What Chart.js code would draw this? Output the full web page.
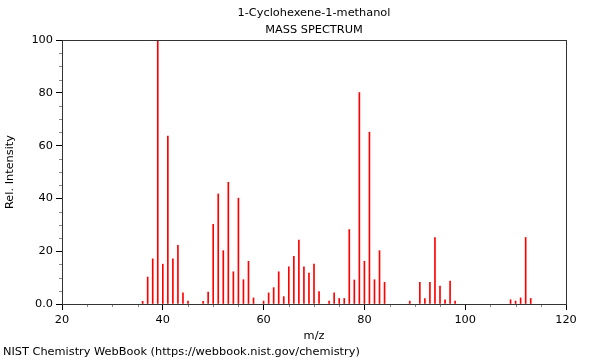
<!DOCTYPE html>
<html>
<head>
<meta charset="utf-8">
<script src="https://cdn.jsdelivr.net/npm/chart.js@4/dist/chart.umd.min.js"></script>
<style>
  html, body { margin: 0; padding: 0; background: #fff; }
  #wrap { width: 600px; height: 360px; }
</style>
</head>
<body>
<div id="wrap"><canvas id="c" width="600" height="360"></canvas></div>
<script>
const titleLines = ["1-Cyclohexene-1-methanol", "MASS SPECTRUM"];
const footerText = "NIST Chemistry WebBook (https://webbook.nist.gov/chemistry)";
const xLabel = "m/z";
const yLabel = "Rel. Intensity";

const mz = [36,37,38,39,40,41,42,43,44,45,
            48,49,50,51,52,53,54,55,56,57,58,
            60,61,62,63,64,65,66,67,68,69,70,71,
            73,74,75,76,77,78,79,80,81,82,83,84,
            89,91,92,93,94,95,96,97,98,
            109,110,111,112,113];
const intensity = [1.0,10.2,17.1,100,15.1,63.6,17.1,22.2,4.2,1.1,
                   1.0,4.5,30.2,41.7,20.2,46.1,12.2,40.1,9.2,16.2,2.3,
                   1.1,4.2,6.2,12.2,2.8,14.1,18.1,24.2,14.1,11.7,15.1,4.7,
                   1.1,4.2,2.1,2.1,28.2,9.1,80.1,16.2,65.1,9.2,20.2,8.2,
                   1.1,8.2,2.1,8.2,25.2,6.8,1.6,8.7,1.1,
                   1.6,1.1,2.3,25.2,2.1];
const xMajorTicks = [20, 40, 60, 80, 100, 120];
const yMajorTicks = [0, 20, 40, 60, 80, 100];

const FONT = "'DejaVu Sans', sans-serif";
const FS = 11.33;
const points = mz.map((m, i) => ({ x: m, y: intensity[i] }));

const frameAndMinor = {
  id: 'frameAndMinor',
  afterDraw(chart) {
    const ctx = chart.ctx;
    const a = chart.chartArea;
    ctx.save();
    ctx.strokeStyle = '#888';
    ctx.lineWidth = 1;
    const xs = chart.scales.x, ys = chart.scales.y;
    xs.ticks.forEach(t => {
      if (xMajorTicks.includes(t.value)) return;
      const px = Math.round(xs.getPixelForValue(t.value)) + 0.5;
      ctx.beginPath(); ctx.moveTo(px, a.bottom); ctx.lineTo(px, a.bottom + 3); ctx.stroke();
    });
    ys.ticks.forEach(t => {
      if (yMajorTicks.includes(t.value)) return;
      const py = Math.round(ys.getPixelForValue(t.value)) + 0.5;
      ctx.beginPath(); ctx.moveTo(a.left, py); ctx.lineTo(a.left - 3, py); ctx.stroke();
    });
    ctx.strokeStyle = '#333';
    ctx.strokeRect(Math.round(a.left) + 0.5, Math.round(a.top) + 0.5,
                   Math.round(a.right - a.left), Math.round(a.bottom - a.top));
    ctx.restore();
  }
};

new Chart(document.getElementById('c'), {
  type: 'bar',
  data: {
    datasets: [{
      data: points,
      backgroundColor: 'rgb(255,0,0)',
      borderWidth: 0,
      barThickness: 1
    }]
  },
  options: {
    responsive: false,
    animation: false,
    devicePixelRatio: 1,
    layout: { padding: { left: 3, right: 34, top: 0, bottom: 0 } },
    plugins: {
      legend: { display: false },
      tooltip: { enabled: false },
      title: {
        display: true,
        fullSize: false,
        text: titleLines,
        color: '#000',
        font: { family: FONT, size: FS, weight: 'normal', lineHeight: '17px' },
        padding: { top: 4.5, bottom: 1.5 }
      },
      subtitle: {
        display: true,
        text: footerText,
        position: 'bottom',
        align: 'start',
        color: '#000',
        font: { family: FONT, size: FS, weight: 'normal', lineHeight: '16px' },
        padding: { top: 1, bottom: 0 }
      }
    },
    scales: {
      x: {
        type: 'linear',
        min: 20, max: 120,
        offset: false,
        grid: { display: true, drawOnChartArea: false, drawTicks: true, tickLength: 6, offset: false,
                tickColor: c => xMajorTicks.includes(c.tick && c.tick.value) ? '#000' : 'rgba(0,0,0,0)' },
        border: { display: true, color: '#333' },
        ticks: {
          stepSize: 5, autoSkip: false, maxRotation: 0, padding: 3, color: '#000',
          font: { family: FONT, size: FS },
          callback: v => xMajorTicks.includes(v) ? String(v) : ''
        },
        title: { display: true, text: xLabel, color: '#000', font: { family: FONT, size: FS },
                 padding: { top: 0, bottom: 0 } },
        afterFit: s => { s.height = 39; }
      },
      y: {
        min: 0, max: 100,
        grid: { display: true, drawOnChartArea: false, drawTicks: true, tickLength: 6,
                tickColor: c => yMajorTicks.includes(c.tick && c.tick.value) ? '#000' : 'rgba(0,0,0,0)' },
        border: { display: true, color: '#333' },
        ticks: {
          stepSize: 5, autoSkip: false, padding: 3, color: '#000',
          font: { family: FONT, size: FS },
          callback: v => yMajorTicks.includes(v) ? (v === 0 ? '0.0' : String(v)) : ''
        },
        title: { display: true, text: yLabel, color: '#000', font: { family: FONT, size: FS },
                 padding: { top: 0.5, bottom: 0 } },
        afterFit: s => { s.width = 59; }
      }
    }
  },
  plugins: [frameAndMinor]
});
</script>
</body>
</html>
